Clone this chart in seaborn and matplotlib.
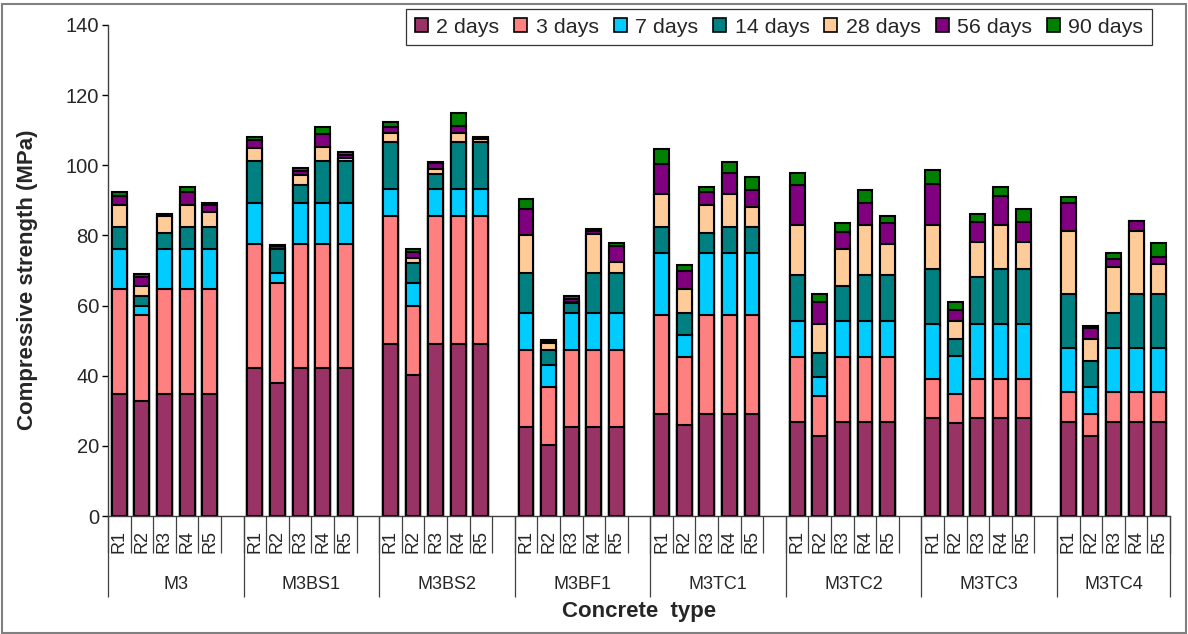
import numpy as np
import pandas as pd
import matplotlib
matplotlib.use("Agg")
import matplotlib.pyplot as plt
from matplotlib.patches import Patch, Rectangle
import seaborn as sns

# ---------------- data ----------------
groups = ["M3", "M3BS1", "M3BS2", "M3BF1", "M3TC1", "M3TC2", "M3TC3", "M3TC4"]
replicates = ["R1", "R2", "R3", "R4", "R5"]
ages = ["2 days", "3 days", "7 days", "14 days", "28 days", "56 days", "90 days"]
colors = ["#993366", "#FF8080", "#00CCFF", "#008080", "#FFCC99", "#800080", "#008000"]

# compressive strength (MPa) at each age; 5 values (R1..R5) per concrete type
strength_2d = [34.8, 32.8, 34.8, 34.8, 34.8,
               42.1, 38.0, 42.1, 42.1, 42.1,
               49.0, 40.1, 49.0, 49.0, 49.0,
               25.3, 20.2, 25.3, 25.3, 25.3,
               29.1, 25.9, 29.1, 29.1, 29.1,
               26.9, 22.8, 26.9, 26.9, 26.9,
               28.0, 26.4, 28.0, 28.0, 28.0,
               26.9, 22.8, 26.9, 26.9, 26.9]
strength_3d = [64.6, 57.3, 64.6, 64.6, 64.6,
               77.6, 66.3, 77.6, 77.6, 77.6,
               85.5, 60.0, 85.5, 85.5, 85.5,
               47.3, 36.9, 47.3, 47.3, 47.3,
               57.3, 45.2, 57.3, 57.3, 57.3,
               45.2, 34.3, 45.2, 45.2, 45.2,
               39.0, 34.8, 39.0, 39.0, 39.0,
               35.3, 29.0, 35.3, 35.3, 35.3]
strength_7d = [76.2, 60.0, 76.2, 76.2, 76.2,
               89.3, 69.4, 89.3, 89.3, 89.3,
               93.2, 66.3, 93.2, 93.2, 93.2,
               58.0, 43.1, 58.0, 58.0, 58.0,
               74.9, 51.6, 74.9, 74.9, 74.9,
               55.7, 39.5, 55.7, 55.7, 55.7,
               54.7, 45.7, 54.7, 54.7, 54.7,
               47.8, 36.9, 47.8, 47.8, 47.8]
strength_14d = [82.5, 62.7, 80.8, 82.5, 82.5,
                101.3, 76.0, 94.4, 101.3, 101.3,
                106.6, 72.1, 97.5, 106.6, 106.6,
                69.4, 47.3, 60.8, 69.4, 69.4,
                82.3, 57.8, 80.8, 82.3, 82.3,
                68.7, 46.4, 65.7, 68.7, 68.7,
                70.3, 50.5, 68.2, 70.3, 70.3,
                63.2, 44.3, 58.0, 63.2, 63.2]
strength_28d = [88.7, 65.7, 85.4, 88.7, 86.6,
                104.8, 76.2, 97.2, 105.1, 102.0,
                109.1, 73.6, 98.9, 109.1, 107.4,
                80.1, 49.2, 61.0, 80.4, 72.3,
                91.9, 64.6, 88.7, 91.8, 88.0,
                83.0, 54.7, 76.1, 83.0, 77.6,
                83.0, 55.7, 78.0, 83.0, 78.0,
                81.4, 50.4, 71.1, 81.4, 71.9]
strength_56d = [91.2, 68.1, 85.8, 92.3, 88.6,
                107.2, 77.0, 98.5, 108.9, 103.0,
                111.0, 75.4, 100.7, 111.2, 107.9,
                87.5, 49.8, 62.0, 81.4, 77.1,
                100.3, 69.9, 92.5, 97.7, 93.0,
                94.4, 60.9, 80.9, 89.3, 83.5,
                94.6, 58.7, 83.9, 91.3, 83.9,
                89.3, 53.5, 73.2, 84.1, 73.9]
strength_90d = [92.5, 68.9, 86.0, 93.9, 89.3,
                108.2, 77.2, 99.1, 110.8, 103.9,
                112.3, 76.2, 100.9, 115.0, 108.2,
                90.3, 50.2, 62.7, 81.9, 77.8,
                104.6, 71.6, 93.9, 100.9, 96.6,
                97.7, 63.2, 83.5, 93.0, 85.6,
                98.7, 61.0, 86.1, 93.9, 87.6,
                90.9, 54.2, 75.1, 84.2, 77.8]
strengths = [strength_2d, strength_3d, strength_7d, strength_14d,
             strength_28d, strength_56d, strength_90d]

# ---------------- long table ----------------
rows = []
for age, vals in zip(ages, strengths):
    i = 0
    for g in groups:
        for r in replicates:
            rows.append({"slot": f"{g}|{r}", "age": age, "strength": vals[i]})
            i += 1
df = pd.DataFrame(rows)

order = []
for gi, g in enumerate(groups):
    order += [f"{g}|{r}" for r in replicates]
    if gi < len(groups) - 1:
        order.append(f"gap{gi}")

# ---------------- style ----------------
sns.set_theme(style="white")
plt.rcParams["font.family"] = ["Liberation Sans", "DejaVu Sans"]

W, H = 1188, 634
fig = plt.figure(figsize=(W / 100, H / 100), dpi=100)
ax = fig.add_axes([108 / W, 1 - 516 / H, (1170 - 108) / W, (516 - 25) / H])

# draw ages from latest (tallest) to earliest so each earlier age overlays the later ones
for age, col in reversed(list(zip(ages, colors))):
    sub = df[df["age"] == age]
    sns.barplot(data=sub, x="slot", y="strength", order=order, color=col,
                saturation=1, width=0.66, edgecolor="black", linewidth=1.5,
                errorbar=None, ax=ax)

ax.set_xlim(-0.5, len(order) - 0.5)
ax.set_ylim(0, 140)
ax.set_yticks(np.arange(0, 141, 20))
ax.tick_params(axis="y", direction="out", length=4.5, width=1, color="black",
               labelsize=14.5, pad=2, left=True)
ax.set_ylabel("")
ax.set_xlabel("")

for s in ["top", "right"]:
    ax.spines[s].set_visible(False)
for s in ["left", "bottom"]:
    ax.spines[s].set_color("#404040")
    ax.spines[s].set_linewidth(1.0)

# replicate labels at slot centres, separators at slot boundaries
rep_labels = [o.split("|")[1] if "|" in o else "" for o in order]
ax.set_xticks(np.arange(len(order)))
ax.set_xticklabels(rep_labels, rotation=90, fontsize=13)
ax.tick_params(axis="x", which="major", length=0, pad=10, bottom=True)
ax.set_xticks(np.arange(-0.5, len(order), 1), minor=True)
ax.tick_params(axis="x", which="minor", length=26.5, width=0.9, color="#404040",
               bottom=True)

# group level axis
bounds = [-0.5]
centers = []
start = -0.5
for gi, g in enumerate(groups):
    n = 6 if gi < len(groups) - 1 else 5
    centers.append(start + n / 2)
    start += n
    bounds.append(start)
sec = ax.secondary_xaxis("bottom")
sec.spines["bottom"].set_visible(False)
sec.set_xticks(bounds)
sec.tick_params(which="major", length=58, width=0.9, color="#404040", labelbottom=False)
sec.set_xticks(centers, labels=groups, minor=True)
sec.tick_params(which="minor", length=0, pad=43, labelsize=13)

# axis titles
fig.text(28 / W, 1 - 280 / H, "Compressive strength (MPa)", rotation=90,
         ha="center", va="center", fontsize=16, fontweight="bold")
fig.text(639 / W, 1 - 611 / H, "Concrete  type", ha="center", va="center",
         fontsize=16, fontweight="bold")

# legend
handles = [Patch(facecolor=c, edgecolor="black", linewidth=1.2) for c in colors]
leg = fig.legend(handles, ages, loc="upper right", ncol=7,
                 bbox_to_anchor=(1152 / W, 1 - 9 / H), bbox_transform=fig.transFigure,
                 frameon=True, fancybox=False, shadow=False, fontsize=15.4,
                 handlelength=0.6, handleheight=0.6, handletextpad=0.4,
                 columnspacing=0.7, borderpad=0.4, borderaxespad=0)
leg.get_frame().set_edgecolor("black")
leg.get_frame().set_linewidth(0.9)

# figure frame
fig.patches.append(Rectangle((0.002, 0.002), 0.996, 0.991, transform=fig.transFigure,
                             fill=False, edgecolor="#808080", linewidth=1.5))

fig.savefig("out.png", dpi=100)
